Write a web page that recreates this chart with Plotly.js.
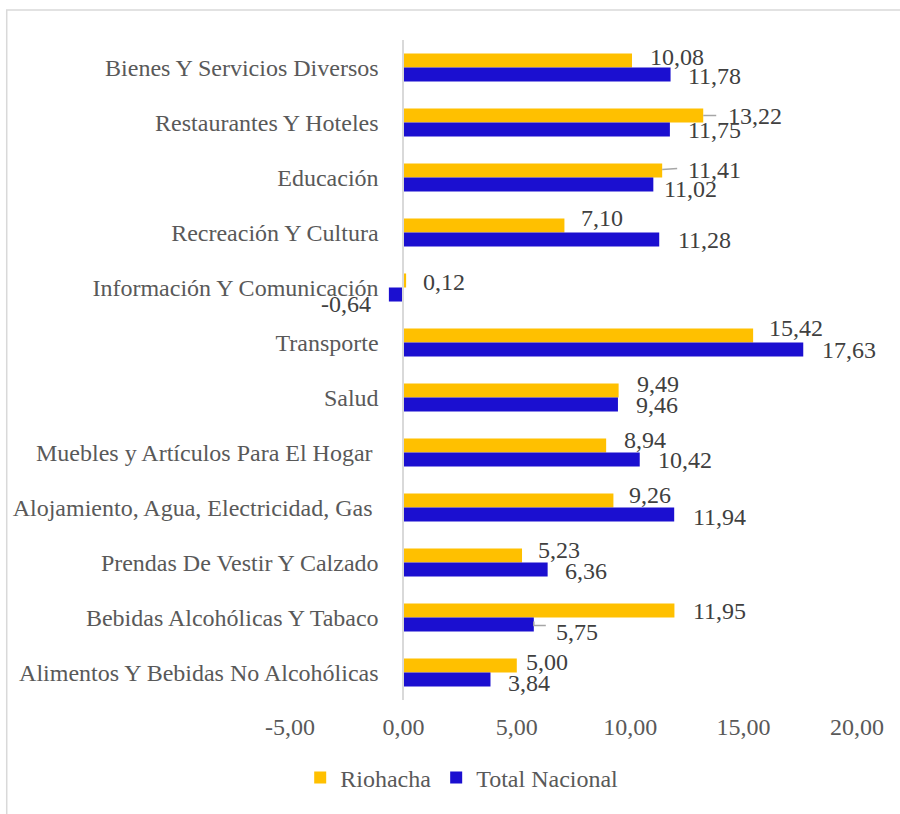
<!DOCTYPE html>
<html>
<head>
<meta charset="utf-8">
<script src="https://cdn.plot.ly/plotly-3.0.1.min.js"></script>
<style>html,body{margin:0;padding:0;background:#fff;}#chart{width:900px;height:814px;}</style>
</head>
<body>
<div id="chart"></div>
<script>
// ---- data (top to bottom as shown) ----
const categories = [
  "Bienes Y Servicios Diversos",
  "Restaurantes Y Hoteles",
  "Educación",
  "Recreación Y Cultura",
  "Información Y Comunicación",
  "Transporte",
  "Salud",
  "Muebles y Artículos Para El Hogar\u00A0",
  "Alojamiento, Agua, Electricidad, Gas\u00A0",
  "Prendas De Vestir Y Calzado",
  "Bebidas Alcohólicas Y Tabaco",
  "Alimentos Y Bebidas No Alcohólicas"
];
const riohacha = [10.08, 13.22, 11.41, 7.10, 0.12, 15.42, 9.49, 8.94, 9.26, 5.23, 11.95, 5.00];
const totalNacional = [11.78, 11.75, 11.02, 11.28, -0.64, 17.63, 9.46, 10.42, 11.94, 6.36, 5.75, 3.84];
const seriesNames = ["Riohacha", "Total Nacional"];
const xTicks = [-5, 0, 5, 10, 15, 20];

// ---- label placement tweaks (pixels; dy positive = down) ----
const rDx = [17, 24, 25, 16, 16, 15, 17, 17, 15, 15, 18, 8];
const rDy = [-4, 0, -1, -7.5, 1, -7.5, -6.5, -6, -5.5, -6, 0.5, -3.5];
const tDx = [16, 17, 10, 18, -17, 18, 17, 17, 18, 16, 21, 17];
const tDy = [1, 0.5, 4.5, 0.5, 9.5, 0, 0.5, 0.5, 2, 1.5, 7.5, 3];

const GOLD = '#FFC000', BLUE = '#1B0FD0';
const FONT = 'Liberation Serif, Times New Roman, serif';
const fmt = v => v.toFixed(2).replace('.', ',');
const BAR_OFF = 7; // half bar thickness, px

const traces = [
  {type: 'bar', orientation: 'h', name: seriesNames[0], y: categories, x: riohacha,
   marker: {color: GOLD}, hoverinfo: 'x+y'},
  {type: 'bar', orientation: 'h', name: seriesNames[1], y: categories, x: totalNacional,
   marker: {color: BLUE}, hoverinfo: 'x+y'}
];

const annotations = [];
categories.forEach((c, i) => {
  const rv = riohacha[i], tv = totalNacional[i];
  annotations.push({
    x: rv, y: c, xref: 'x', yref: 'y', text: fmt(rv), showarrow: false,
    xanchor: rDx[i] >= 0 ? 'left' : 'right', yanchor: 'middle',
    xshift: rDx[i], yshift: BAR_OFF - rDy[i],
    font: {family: FONT, size: 24, color: '#404040'}, borderpad: 0
  });
  annotations.push({
    x: tv, y: c, xref: 'x', yref: 'y', text: fmt(tv), showarrow: false,
    xanchor: tDx[i] >= 0 ? 'left' : 'right', yanchor: 'middle',
    xshift: tDx[i], yshift: -BAR_OFF - tDy[i],
    font: {family: FONT, size: 24, color: '#404040'}, borderpad: 0
  });
});

// leader lines (anchored at bar ends)
const lineStyle = {color: '#A6A6A6', width: 1.5};
const shapes = [
  {type: 'line', xref: 'x', yref: 'y', xsizemode: 'pixel', ysizemode: 'pixel',
   xanchor: riohacha[1], yanchor: categories[1], x0: 0, x1: 13, y0: 7, y1: 7, line: lineStyle},
  {type: 'line', xref: 'x', yref: 'y', xsizemode: 'pixel', ysizemode: 'pixel',
   xanchor: riohacha[2], yanchor: categories[2], x0: 0, x1: 15, y0: 8, y1: 9, line: lineStyle},
  {type: 'path', xref: 'x', yref: 'y', xsizemode: 'pixel', ysizemode: 'pixel',
   xanchor: totalNacional[10], yanchor: categories[10], path: 'M0,-4 L0,-8 L12,-8', line: lineStyle},
  // chart area border
  {type: 'rect', xref: 'paper', yref: 'paper', x0: -0.4996, x1: 1.3, y0: -0.3, y1: 1.0455,
   line: {color: '#D9D9D9', width: 1.5}, fillcolor: 'rgba(0,0,0,0)', layer: 'below'}
];

const layout = {
  width: 900, height: 814,
  margin: {l: 290, r: 42.5, t: 40, b: 114},
  paper_bgcolor: '#fff', plot_bgcolor: '#fff',
  barmode: 'group', bargap: 0.49, bargroupgap: 0,
  font: {family: FONT, size: 24, color: '#595959'},
  xaxis: {range: [-5, 20], tickvals: xTicks, ticktext: xTicks.map(fmt),
          showgrid: false, zeroline: false, showline: false, ticks: '',
          tickfont: {family: FONT, size: 24, color: '#595959'}, ticklabelstandoff: 10, fixedrange: true},
  yaxis: {type: 'category', autorange: 'reversed', anchor: 'free', position: 0.2,
          showline: true, linecolor: '#D9D9D9', linewidth: 2, ticks: '', showgrid: false, zeroline: false,
          tickfont: {family: FONT, size: 24, color: '#595959'}, ticklabelstandoff: 19, fixedrange: true},
  showlegend: true,
  legend: {orientation: 'h', xref: 'container', yref: 'container', x: 0.513, xanchor: 'center',
           y: 1 - 778 / 814, yanchor: 'middle', font: {family: FONT, size: 24, color: '#595959'},
           itemwidth: 30, tracegroupgap: 0},
  annotations: annotations,
  shapes: shapes
};

Plotly.newPlot('chart', traces, layout, {displayModeBar: false, staticPlot: true});
</script>
</body>
</html>
